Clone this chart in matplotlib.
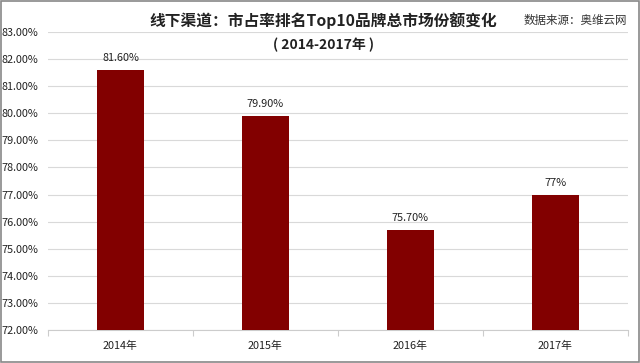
import matplotlib
matplotlib.use("Agg")
import matplotlib.pyplot as plt
from matplotlib.patches import Rectangle

plt.rcParams['font.family'] = ['Noto Sans CJK SC', 'DejaVu Sans']

categories = ['2014年', '2015年', '2016年', '2017年']
values = [81.60, 79.90, 75.70, 77.0]
value_labels = ['81.60%', '79.90%', '75.70%', '77%']
yticks = [72, 73, 74, 75, 76, 77, 78, 79, 80, 81, 82, 83]

fig = plt.figure(figsize=(6.4, 3.63), dpi=100)
fig.patch.set_facecolor('white')
ax = fig.add_axes([0.075, 0.091, 0.906, 0.821])

x = list(range(len(categories)))
ax.bar(x, [v - 72 for v in values], bottom=72, width=0.32, color='#820000', zorder=3)
for xi, v, lab in zip(x, values, value_labels):
    ax.text(xi, v + 0.25, lab, ha='center', va='bottom', fontsize=7.8, color='#222222')

ax.set_ylim(72, 83)
ax.set_xlim(-0.5, len(categories) - 0.5)
ax.set_yticks(yticks)
ax.set_yticklabels([f'{t:.2f}%' for t in yticks], fontsize=7.8, color='#222222')
ax.set_xticks(x)
ax.set_xticklabels(categories, fontsize=7.8, color='#222222')
ax.tick_params(axis='y', length=0, pad=7)
ax.tick_params(axis='x', length=0, pad=8)
ax.set_xticks([i - 0.5 for i in range(len(categories) + 1)], minor=True)
ax.tick_params(axis='x', which='minor', length=4, color='#cccccc', width=0.8)
ax.grid(axis='y', color='#d9d9d9', linewidth=0.8, zorder=0)
for s in ['top', 'right', 'left']:
    ax.spines[s].set_visible(False)
ax.spines['bottom'].set_color('#cccccc')
ax.spines['bottom'].set_linewidth(0.8)

fig.text(0.505, 0.943, '线下渠道：市占率排名Top10品牌总市场份额变化', ha='center', va='center',
         fontsize=11.3, fontweight='bold', color='#222222')
fig.text(0.505, 0.876, '( 2014-2017年 )', ha='center', va='center',
         fontsize=10, fontweight='bold', color='#222222')
fig.text(0.980, 0.943, '数据来源：奥维云网', ha='right', va='center', fontsize=8.3, color='#333333')

fig.add_artist(Rectangle((0.002, 0.003), 0.996, 0.994, transform=fig.transFigure,
                         fill=False, edgecolor='#888888', linewidth=1.2))

fig.savefig('out.png', dpi=100, facecolor='white')
